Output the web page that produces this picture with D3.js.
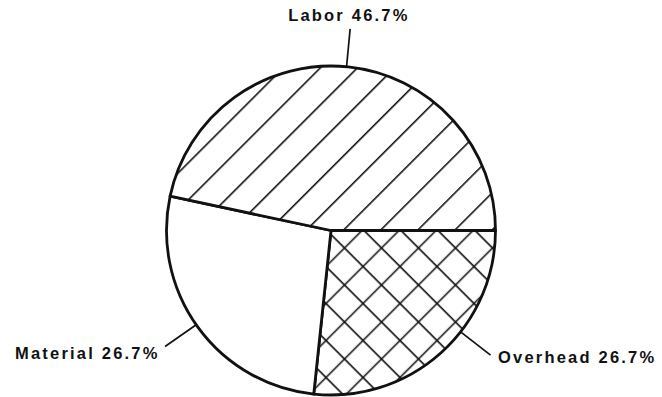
<!DOCTYPE html>
<html>
<head>
<meta charset="utf-8">
<script src="https://cdn.jsdelivr.net/npm/d3@7/dist/d3.min.js"></script>
<style>
  html, body { margin: 0; padding: 0; background: #fff; }
  svg { display: block; }
  .label { font-family: "Liberation Sans", Arial, Helvetica, sans-serif; font-weight: 700; font-size: 16.5px; letter-spacing: 2.2px; fill: #111; }
</style>
</head>
<body>
<svg id="chart" width="662" height="397"></svg>
<script>
// Cost breakdown
const categories = ["Overhead", "Material", "Labor"];
const shares = [26.7, 26.7, 46.7];
const fills = ["cross", "none", "diag"];

// Label placement: leader angle nudge (deg) and text offset from the leader tip
const labelLayout = {
  Overhead: { nudge: -10, anchor: "start", dx: 7.5, dy: 7.5 },
  Material: { nudge: 1, anchor: "end", dx: -5.5, dy: 12 },
  Labor:    { nudge: -0.6, anchor: "middle", dx: -1.3, dy: -8 }
};

const W = 662, H = 397;
const cx = 331, cy = 230.5, R = 164.5, leader = 38;

const svg = d3.select("#chart");
const defs = svg.append("defs");

// Single diagonal hatch "/"
const dStep = 37.1 / Math.SQRT2;
const diag = defs.append("pattern")
  .attr("id", "diag").attr("patternUnits", "userSpaceOnUse")
  .attr("width", dStep).attr("height", dStep)
  .attr("patternTransform", "rotate(45)");
diag.append("rect").attr("width", dStep).attr("height", dStep).attr("fill", "#fff");
diag.append("line").attr("x1", 8.56).attr("x2", 8.56).attr("y1", -1).attr("y2", dStep + 1)
  .attr("stroke", "#111").attr("stroke-width", 1.6);

// Cross hatch "X"
const cStep = 37 / Math.SQRT2;
const cross = defs.append("pattern")
  .attr("id", "cross").attr("patternUnits", "userSpaceOnUse")
  .attr("width", cStep).attr("height", cStep)
  .attr("patternTransform", "rotate(45)");
cross.append("rect").attr("width", cStep).attr("height", cStep).attr("fill", "#fff");
cross.append("line").attr("x1", 21.9).attr("x2", 21.9).attr("y1", -1).attr("y2", cStep + 1)
  .attr("stroke", "#111").attr("stroke-width", 1.6);
cross.append("line").attr("y1", 2.83).attr("y2", 2.83).attr("x1", -1).attr("x2", cStep + 1)
  .attr("stroke", "#111").attr("stroke-width", 1.6);

const data = categories.map((c, i) => ({ name: c, value: shares[i], fill: fills[i] }));

const pie = d3.pie().sort(null).value(d => d.value)
  .startAngle(Math.PI / 2).endAngle(Math.PI / 2 + 2 * Math.PI);
const arcs = pie(data);
const arc = d3.arc().innerRadius(0).outerRadius(R);

const g = svg.append("g").attr("transform", `translate(${cx},${cy})`);

g.selectAll("path.slice").data(arcs).join("path")
  .attr("class", "slice")
  .attr("d", arc)
  .attr("fill", d => d.data.fill === "none" ? "#fff" : `url(#${d.data.fill})`)
  .attr("stroke", "#111").attr("stroke-width", 2.8).attr("stroke-linejoin", "round");

// Leaders and labels
const lab = g.selectAll("g.lab").data(arcs).join("g").attr("class", "lab");
lab.each(function (d) {
  const L = labelLayout[d.data.name];
  const a = (d.startAngle + d.endAngle) / 2 + L.nudge * Math.PI / 180;
  const p0 = [Math.sin(a) * R, -Math.cos(a) * R];
  const p1 = [Math.sin(a) * (R + leader), -Math.cos(a) * (R + leader)];
  const sel = d3.select(this);
  sel.append("line")
    .attr("x1", p0[0]).attr("y1", p0[1]).attr("x2", p1[0]).attr("y2", p1[1])
    .attr("stroke", "#111").attr("stroke-width", 1.7);
  sel.append("text").attr("class", "label")
    .attr("x", p1[0] + L.dx).attr("y", p1[1] + L.dy)
    .attr("text-anchor", L.anchor)
    .text(`${d.data.name} ${d.data.value}%`);
});
</script>
</body>
</html>
